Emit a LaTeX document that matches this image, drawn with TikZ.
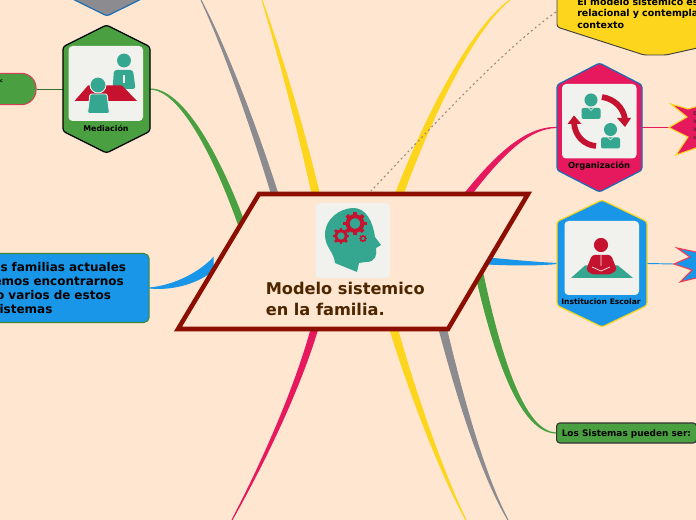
\documentclass[tikz,border=0pt]{standalone}
\usepackage{fontspec}
\setmainfont{DejaVu Sans}
\usetikzlibrary{calc,positioning}

% tapered branch: colour, thin end, two controls, thick end, half width
\newcommand{\branch}[6]{
    \fill[#1,draw=#1,line width=0.8pt] (#2) .. controls ($(#3)+0.4*(#6)$) and ($(#4)+0.8*(#6)$) .. ($(#5)+(#6)$) -- ($(#5)-(#6)$)
    .. controls ($(#4)-0.8*(#6)$) and ($(#3)-0.4*(#6)$) .. (#2) -- cycle;
}
% hexagon drawn round an empty node
\newcommand{\hexpath}[2]{
    \draw[#2,line width=0.9pt,rounded corners=2pt,line join=round] (#1.north)
    -- ($(#1.north east)!.17!(#1.south east)$) -- ($(#1.south east)!.17!(#1.north east)$)
    -- (#1.south)
    -- ($(#1.south west)!.17!(#1.north west)$) -- ($(#1.north west)!.17!(#1.south west)$) -- cycle;
}
% person of the Organizacion icon
\newcommand{\bizperson}[2]{
    \fill[headteal] (#1,#2) circle (4.9pt);
    \fill[headteal,rounded corners=1.5pt] ($(#1,#2)+(-9.5,8)$) rectangle ($(#1,#2)+(9.5,19)$);
    \draw[iconbox,line width=0.5pt] ($(#1,#2)+(-3,7.5)$) -- ($(#1,#2)+(0,10.5)$) -- ($(#1,#2)+(3,7.5)$);
}
% gear of the head icon
\newcommand{\cogwheel}[3]{
    \draw[iconred,line width=#3*0.27pt] (#1,#2) circle (#3*0.5pt);
    \foreach \a in {0,45,...,315}
        \draw[iconred,line width=#3*0.25pt] ($(#1,#2)+(\a:#3*0.6)$) -- ($(#1,#2)+(\a:#3*1.05)$);
}

\begin{document}
\begin{tikzpicture}[x=0.75pt,y=-0.75pt]

% =========================
% Color Definitions
% =========================
\definecolor{pagebg}{HTML}{FEE6D0}
\definecolor{frame}{HTML}{8B0E00}
\definecolor{titlebrown}{HTML}{4D2600}
\definecolor{mapgreen}{HTML}{4AA040}
\definecolor{mappink}{HTML}{E6195F}
\definecolor{mapblue}{HTML}{1A96E8}
\definecolor{mapgrey}{HTML}{8C8C90}
\definecolor{mapyellow}{HTML}{FCD51C}
\definecolor{edgeblue}{HTML}{1A6FB5}
\definecolor{headteal}{HTML}{35A68F}
\definecolor{iconred}{HTML}{C4122F}
\definecolor{iconbox}{HTML}{F1F1EE}
\definecolor{dotline}{HTML}{A08870}

\tikzset{
    hexcell/.style={inner sep=0pt,outer sep=0pt},
    hexlabel/.style={inner sep=0pt,font=\bfseries\fontsize{#1}{#1}\selectfont},
    iconcard/.style={fill=iconbox,rounded corners=3pt}
}

\clip[use as bounding box] (0,0) rectangle (696,520);
\fill[pagebg] (0,0) rectangle (696,520);

% =========================
% Nodes the branches start from
% =========================
\node[hexcell,minimum width=66pt,minimum height=96pt] (grises) at (107,-48) {};
\node[hexcell,minimum width=65.25pt,minimum height=96pt] (mediacion) at (106.5,89) {};
\node[hexcell,minimum width=63.75pt,minimum height=96.75pt] (organizacion) at (599.5,127.5) {};
\node[hexcell,minimum width=67.5pt,minimum height=95.25pt] (institucion) at (602,263.5) {};

\node[draw=iconred!80,line width=0.8pt,fill=mapgreen,rounded corners=11pt,minimum width=45pt,minimum height=23.5pt,inner sep=0pt] (pill) at (6,89) {};
\node[draw=mapgreen!85!black,line width=0.8pt,fill=mapblue,rounded corners=4pt,anchor=west,align=left,
      text width=107pt,inner xsep=5.25pt,minimum height=51.75pt,
      font=\bfseries\fontsize{9}{10.7}\selectfont] (familias) at (-8,288)
{\hspace*{0.75pt}s familias actuales\\[0pt]\hspace*{-4.5pt}emos encontrarnos\\[0pt]\hspace*{-2.5pt}o varios de estos\\[0pt]\hspace*{0pt}istemas};
\node[draw=black!80,line width=0.8pt,fill=mapgreen,rounded corners=2.5pt,minimum width=105pt,minimum height=15pt,
      inner sep=0pt,anchor=west] (sistemas) at (556,433) {};

\coordinate (greytop) at (201,0);
\coordinate (yellowtop) at (262,0);
\coordinate (yellowright) at (510,0);
\coordinate (pinkbottom) at (232,520);
\coordinate (greybottom) at (508,520);
\coordinate (yellowbottom) at (466,520);
\coordinate (modelotop) at (556,12);

\coordinate (inGreyA) at (275,195);
\coordinate (inYellowA) at (316,195);
\coordinate (inGreenA) at (243,228);
\coordinate (inBlueA) at (213,264);
\coordinate (inPink) at (315,327);
\coordinate (inYellowB) at (399,195);
\coordinate (inPinkB) at (468,194);
\coordinate (inBlueB) at (488,261);
\coordinate (inGreenB) at (478,268);
\coordinate (inGreyB) at (443,330);
\coordinate (inYellowC) at (394,330);
\coordinate (inDots) at (371,191);

% =========================
% Branches
% =========================
\branch{mapgrey}{greytop}{225,48}{255,130}{inGreyA}{3,-0.8}
\branch{mapyellow}{yellowtop}{280,55}{300,125}{inYellowA}{3.5,-0.8}
\branch{mapgreen}{mediacion.east}{180,89}{215,150}{inGreenA}{3,-1}
\branch{mapblue}{familias.east}{175,288}{200,277}{inBlueA}{0,6}
\branch{mappink}{pinkbottom}{270,450}{300,380}{inPink}{3,1}
\branch{mapyellow}{yellowright}{470,30}{425,125}{inYellowB}{3.5,1}
\branch{mappink}{organizacion.west}{525,127}{495,160}{inPinkB}{2.5,1.5}
\branch{mapblue}{institucion.west}{540,264}{515,263}{inBlueB}{0,3}
\branch{mapgreen}{sistemas.west}{525,432}{500,370}{inGreenB}{3.5,-1}
\branch{mapgrey}{greybottom}{480,470}{457,385}{inGreyB}{3.5,-1}
\branch{mapyellow}{yellowbottom}{440,470}{410,385}{inYellowC}{3.5,-1}

\draw[dotline,line width=0.8pt,dash pattern=on 1.5pt off 2.2pt] (modelotop) .. controls (505,48) and (440,118) .. (inDots);

% Thin links on the outer side
\coordinate (starpink) at (670,127.5);
\coordinate (starblue) at (674,264);
\draw[mappink,line width=0.7pt] (organizacion.east) -- (starpink);
\draw[mapblue,line width=0.7pt] (institucion.east) -- (starblue);
\draw[mapgreen!70!black,line width=0.6pt] (mediacion.west) -- (pill.east);

% =========================
% Yellow note and stars
% =========================
\fill[mapyellow,draw=black!75,line width=0.7pt,rounded corners=2pt]
(557,-12) -- (557,27) -- (644,55) -- (666,55) -- (760,34) -- (760,-12) -- cycle;
\node[anchor=north west,inner sep=0pt,align=left,text width=200pt,
      font=\bfseries\fontsize{7.1}{8.5}\selectfont] (modelonote) at (577,-2)
{El modelo sistemico es\\relacional y contempla\\contexto};

\fill[mappink,draw=mapyellow,line width=0.8pt]
(671,104) -- (688,109) -- (720,100) -- (720,155) -- (696,148) -- (676,155) -- (688,137) -- (669,127.5) -- (687,117) -- cycle;
\node[anchor=north west,inner sep=0pt,align=left,text width=20pt,text=black!85,
      font=\fontsize{4}{6}\selectfont] (starnote) at (693,111)
{E\\In\\In\\s};

\fill[mapblue,draw=red!65!mappink!80,line width=0.8pt]
(677,248) -- (696,252) -- (720,246) -- (720,284) -- (696,278) -- (680,282) -- (692,270) -- (674,264) -- (690,257) -- cycle;

% =========================
% Hexagons
% =========================
\hexpath{grises}{fill=mapgrey,draw=edgeblue}
\hexpath{mediacion}{fill=mapgreen,draw=black}
\hexpath{organizacion}{fill=mappink,draw=edgeblue}
\hexpath{institucion}{fill=mapblue,draw=mapyellow}

% Mediacion icon
\fill[iconcard] (68.5,46) rectangle (143,121);
\fill[headteal] (124,60.5) circle (5.2pt);
\fill[headteal,rounded corners=2pt] (114,70) -- (133,70) -- (135.5,89) -- (112.5,89) -- cycle;
\draw[iconbox,line width=1pt] (124,75) -- (124,83);
\fill[iconred] (74.5,101) -- (88,85.5) -- (122,85.5) -- (137,101) -- cycle;
\fill[headteal,draw=iconbox,line width=0.7pt] (98,85) circle (6pt);
\fill[headteal,draw=iconbox,line width=0.7pt,rounded corners=1pt] (90,94) -- (107,94) -- (109.5,113.5) -- (87.5,113.5) -- cycle;
\node[hexlabel=5.9] (medlabel) at (106,128) {Mediación};

% Organizacion icon
\fill[iconcard] (562,84) rectangle (636.5,158.5);
\bizperson{591}{100}
\bizperson{610.5}{129.5}
\draw[iconred,line width=4.3pt] (602,97) .. controls (614,99) and (623,107) .. (625,119);
\fill[iconred] (617,118) -- (631,118) -- (625,127) -- cycle;
\draw[iconred,line width=4.3pt] (596,146) .. controls (584,145) and (575,136) .. (574,123);
\fill[iconred] (567.5,124) -- (581.5,124) -- (574,115.5) -- cycle;
\node[hexlabel=6.3] (orglabel) at (599,166) {Organización};

% Institucion icon
\fill[iconcard] (564.5,221) rectangle (639,295);
\fill[headteal] (571,278) -- (585,265.5) -- (618,265.5) -- (633,278) -- cycle;
\fill[iconred] (601,245) circle (5.3pt);
\fill[iconred,rounded corners=2pt] (592,255) -- (611,255) -- (617,270) -- (610,274.5) -- (592,274.5) -- (586,270) -- cycle;
\draw[iconbox,line width=0.5pt] (601,255) -- (601,266) (592,267) -- (601,271) -- (610,267);
\node[hexlabel=5.7] (instlabel) at (601,302) {Institucion Escolar};

% Pill and last box texts
\node[inner sep=0pt,font=\bfseries\fontsize{3.5}{4}\selectfont] (pilltext) at (1.5,81.5) {c};
\node[inner sep=0pt,anchor=west,font=\bfseries\fontsize{6.7}{8}\selectfont] (sistemaslabel) at (561.5,434) {Los Sistemas pueden ser:};

% =========================
% Central parallelogram
% =========================
\fill[pagebg,draw=frame,line width=3.4pt,line join=miter] (259,194) -- (528,194) -- (448,329) -- (178,329) -- cycle;

\fill[iconcard] (315.5,203) rectangle (390,278);
\fill[headteal] (335,263) .. controls (334,252) and (325,247) .. (325,235)
.. controls (325,218) and (340,209) .. (352,208) .. controls (366,207) and (373,222) .. (375,237)
-- (381,245) -- (376,248) .. controls (377,255) and (376,262) .. (366,262) -- (359,263) -- (357,272) -- cycle;
\cogwheel{355}{223.5}{11}
\cogwheel{341}{236}{8}
\cogwheel{363}{238.5}{3.6}

\node[anchor=north west,inner sep=0pt,align=left,text=titlebrown,
      font=\bfseries\fontsize{12.15}{15.75}\selectfont] (modelo) at (265.5,281.5)
{Modelo sistemico\\en la familia.};

\end{tikzpicture}
\end{document}
